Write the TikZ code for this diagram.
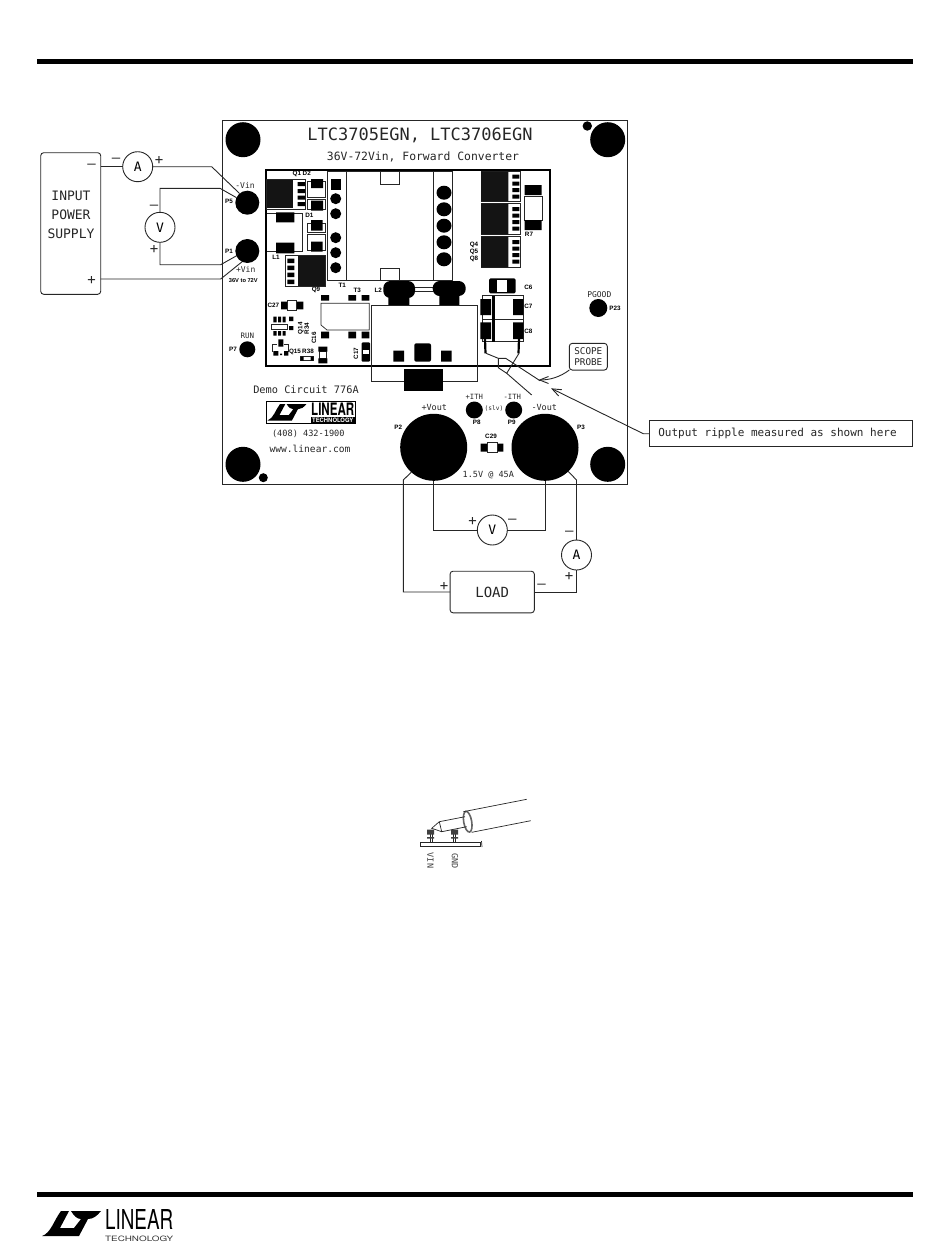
\documentclass[tikz,border=0pt]{standalone}
\usepackage{fontspec}
\usepackage{graphicx}
\usetikzlibrary{arrows.meta}
\newfontfamily\plotfont{DejaVu Sans Mono}
\newfontfamily\silkfont{Liberation Sans}
\newfontfamily\logofont{TeX Gyre Heros}
\definecolor{wire}{gray}{0.15}
\tikzset{
	wireline/.style={draw=wire, line width=.9pt},
	outline/.style={draw=wire, line width=.7pt},
	meter/.style={circle, draw=wire, fill=white, line width=.9pt, minimum size=30pt, inner sep=0pt, outer sep=0pt, font=\plotfont\fontsize{13}{13}\selectfont},
	hole/.style={circle, fill=black, inner sep=0pt, outer sep=0pt, minimum size=35pt},
	terminal/.style={circle, fill=black, inner sep=0pt, outer sep=0pt, minimum size=24pt},
	smalldot/.style={circle, fill=black, inner sep=0pt, outer sep=0pt, minimum size=17pt},
	bigpost/.style={circle, fill=black, inner sep=0pt, outer sep=0pt, minimum size=67pt},
	stroketext/.style={inner sep=0pt, text=black!85, font=\plotfont\fontsize{#1}{#1}\selectfont},
	stroketext/.default=10,
	silk/.style={inner sep=0pt, font=\silkfont\bfseries\fontsize{6.3}{6.5}\selectfont},
	sign/.style={inner sep=0pt, text=wire, font=\plotfont\fontsize{14}{14}\selectfont},
	barb/.style={-{Straight Barb[length=9pt,width=7pt]}, wireline},
	ltlogo/.pic={
		\fill[black] (19,0) -- (27,0) -- (18,17) -- (32,17) -- (39,8) .. controls (35,8) and (32,5) .. (29,0) -- (59,0) .. controls (55,5) and (51,8) .. (46,8) -- (37,25) -- (0,25) .. controls (9,22) and (12,9) .. (19,0) -- cycle;
	},
}
\begin{document}
\begin{tikzpicture}[x=1pt,y=-1pt]
	\useasboundingbox (0,0) rectangle (950,1248);
	% Page rules
	\fill[black] (37,59) rectangle (913,64);
	\fill[black] (37,1192) rectangle (913,1197);
	% Footer logo
	\pic at (42,1211) {ltlogo};
	\node[inner sep=0pt, anchor=north west, align=left, font=\fontsize{10}{10}\selectfont] (footword) at (105,1209.5) {\resizebox{68pt}{20pt}{\logofont LINEAR}\\[2pt]\textcolor{black!80}{\resizebox{68pt}{5.5pt}{\logofont TECHNOLOGY}}};
	% Board
	\draw[outline] (222.7,120) rectangle (627.3,484.3);
	\node[hole] (holeTL) at (243,139.7) {};
	\node[hole] (holeTR) at (607.7,139.7) {};
	\node[hole] (holeBL) at (243,464.3) {};
	\node[hole] (holeBR) at (607.7,464.3) {};
	\fill[black] (587.3,126) circle (4.7pt) (263.3,477.7) circle (4.5pt);
	\node[stroketext=17] (title) at (420,135) {LTC3705EGN, LTC3706EGN};
	\node[stroketext=11.4] (subtitle) at (423,157) {36V-72Vin, Forward Converter};
	\draw[draw=black, line width=1.4pt] (266,170) rectangle (550,366);
	% Q1, D2, D1, L1, Q9
	\draw[outline] (266.7,179) rectangle (305.7,209);
	\fill[black!92] (267.3,180) rectangle (293.3,208);
	\fill[black] (297.7,182) rectangle (305,186) (297.7,189) rectangle (305,193) (297.7,195.5) rectangle (305,199.5) (297.7,202) rectangle (305,206);
	\node[silk] (labelQ1) at (301.7,174) {Q1 D2};
	\draw[outline] (307.7,181) rectangle (325.7,197.3) (307.7,199) rectangle (325.7,209);
	\fill[black] (311,179) rectangle (323,188) (311,200.7) rectangle (323,210.7);
	\node[silk] (labelD1) at (309.3,215.7) {D1};
	\draw[outline] (307.7,223) rectangle (325.7,232) (307.7,234) rectangle (325.7,250);
	\fill[black] (311,220) rectangle (322.7,230.7) (311,241.7) rectangle (322.7,251.7);
	\draw[outline] (266.7,213.3) -- (302.7,213.3) -- (302.7,251) -- (266.7,251);
	\fill[black] (276,212.3) rectangle (294.3,222.3) (276,242.7) rectangle (294.3,253.3);
	\node[silk] (labelL1) at (276,257.3) {L1};
	\draw[outline] (285.7,255.7) rectangle (325,286.7);
	\fill[black!92] (298.3,255.7) rectangle (325,286);
	\fill[black] (287.3,258.5) rectangle (294.3,263) (287.3,265.5) rectangle (294.3,270) (287.3,272.5) rectangle (294.3,277) (287.3,279.5) rectangle (294.3,284);
	\node[silk] (labelQ9) at (316,290.3) {Q9};
	% T1 transformer
	\draw[outline] (327.3,171.7) rectangle (452.3,280.7) (346,171.7) -- (346,280.7) (433.3,171.7) -- (433.3,280.7);
	\draw[outline] (380.7,171.7) rectangle (399.3,184) (380.7,268.3) rectangle (399.3,280.7);
	\fill[black] (330.5,179) rectangle (341,189.5);
	\fill[black] (335.7,198.7) circle (5.5pt) (335.7,213.7) circle (5.5pt) (335.7,237.7) circle (5.5pt) (335.7,252.7) circle (5.5pt) (335.7,267.7) circle (5.5pt);
	\fill[black] (444,192.7) ellipse [x radius=7.5pt, y radius=7pt] (444,209.3) ellipse [x radius=7.5pt, y radius=7pt] (444,225.7) ellipse [x radius=7.5pt, y radius=7pt] (444,242.3) ellipse [x radius=7.5pt, y radius=7pt] (444,259.3) ellipse [x radius=7.5pt, y radius=7pt];
	\node[silk] (labelT1) at (342.3,285) {T1};
	\node[silk] (labelT3) at (357.3,290) {T3};
	% Q4, Q5, Q8, R7
	\draw[outline] (481,171.7) rectangle (520.7,201.3) (481,203.7) rectangle (520.7,234.3) (481,236.7) rectangle (520.7,267.3);
	\fill[black!92] (481,171.7) rectangle (508.3,201.3) (481,203.7) rectangle (508.3,234.3) (481,236.7) rectangle (508.3,267.3);
	\fill[black] (512.3,174.5) rectangle (519.3,178.5) (512.3,181.5) rectangle (519.3,185.5) (512.3,188) rectangle (519.3,192) (512.3,194.5) rectangle (519.3,198.5);
	\fill[black] (512.3,207) rectangle (519.3,211) (512.3,213.5) rectangle (519.3,217.5) (512.3,220) rectangle (519.3,224) (512.3,226.5) rectangle (519.3,230.5);
	\fill[black] (512.3,240) rectangle (519.3,244) (512.3,246.5) rectangle (519.3,250.5) (512.3,253) rectangle (519.3,257) (512.3,259.5) rectangle (519.3,263.5);
	\node[silk] (labelQ4) at (474,245) {Q4};
	\node[silk] (labelQ5) at (474,252) {Q5};
	\node[silk] (labelQ8) at (474,259) {Q8};
	\draw[outline] (524,196) rectangle (542.7,220);
	\fill[black] (524.7,185) rectangle (541.7,195) (524.7,220) rectangle (541.7,230);
	\node[silk] (labelR7) at (529,234) {R7};
	% L2 and the big output inductor
	\draw[outline] (371.7,305) rectangle (477.3,381.7);
	\draw[outline] (415,287) -- (433,287) (415,291) -- (433,291);
	\fill[black, rounded corners=7pt] (383.3,281) rectangle (415,298) (432.7,281) rectangle (465.7,296);
	\fill[black] (388.3,290) rectangle (409.3,305) (439.3,290) rectangle (459.3,305);
	\node[silk] (labelL2) at (378.3,290) {L2};
	\fill[black] (393.3,350.7) rectangle (404,361.7) (441,350.7) rectangle (451.7,361.7);
	\fill[black, rounded corners=2pt] (414.3,343.3) rectangle (431,361.7);
	\fill[black] (404.3,369) rectangle (443.3,390.7);
	% T3
	\draw[outline] (321,303.3) -- (369.3,303.3) -- (369.3,330) -- (327,330) -- (321,325) -- cycle;
	\fill[black] (321,295) rectangle (329,300.7) (348.3,295) rectangle (356,300.7) (361.7,295) rectangle (369.3,300.7);
	\fill[black] (321,331.7) rectangle (329,338.3) (348.3,331.7) rectangle (356,338.3) (361.7,331.7) rectangle (369.3,338.3);
	% C6, C7, C8
	\fill[black, rounded corners=1.5pt] (489,278.3) rectangle (515.7,293.3);
	\fill[white] (497,280) rectangle (507,292);
	\node[silk] (labelC6) at (528.3,287.7) {C6};
	\draw[outline] (482.3,295.7) rectangle (523.3,341.7) (482.3,319) -- (523.3,319);
	\fill[black] (492.3,295.7) rectangle (494.5,342);
	\fill[black] (480.3,299) rectangle (491,315) (513,299) rectangle (523.3,315) (480.3,322.3) rectangle (491,339) (513,322.3) rectangle (523.3,339);
	\node[silk] (labelC7) at (528.3,306.7) {C7};
	\node[silk] (labelC8) at (528.3,331) {C8};
	% Probe across the output
	\draw[black, line width=2.2pt] (485,339) -- (485.5,353.3) (519,339) -- (518.5,353.3);
	\draw[wireline] (486,353.3) -- (498.3,358.3) -- (505.7,358.3) -- (540,380.7);
	\draw[wireline] (519,353.3) -- (506.7,373.3) -- (498.3,367.7) -- (498.3,358.3);
	\draw[wireline] (506.7,373.3) -- (531.7,395);
	% Small parts lower left
	\fill[black] (281,301.7) rectangle (287.3,309.3) (296.7,301.7) rectangle (303.3,309.3);
	\draw[outline] (287.3,300) rectangle (296.7,310.7);
	\node[silk] (labelC27) at (273.3,305.7) {C27};
	\fill[black] (273.3,316.7) rectangle (276.5,322.3) (278,316.7) rectangle (281,322.3) (282.5,316.7) rectangle (285.5,322.3) (273.3,331) rectangle (276.5,335.7) (278,331) rectangle (281,335.7) (282.5,331) rectangle (285.5,335.7);
	\draw[outline] (271,324) rectangle (287.3,329.3);
	\fill[black] (289,316.7) rectangle (293.3,321) (289,326) rectangle (293.3,330);
	\node[silk, rotate=90] (labelQ14) at (300.7,328.3) {Q14};
	\node[silk, rotate=90] (labelR34) at (306.7,328.3) {R34};
	\draw[outline] (272.7,352) -- (272.7,344.3) -- (277.3,344.3) (284,344.3) -- (288.3,344.3) -- (288.3,352);
	\fill[black] (278.3,339.3) rectangle (283.3,346.7) (273.3,351) rectangle (278.3,355.7) (284,351) rectangle (288.3,355.7) (280,353.5) rectangle (282,355);
	\node[silk] (labelQ15) at (295,351.7) {Q15};
	\node[silk] (labelR38) at (308,351.7) {R38};
	\draw[outline] (300.7,356.7) rectangle (313.3,360.7);
	\fill[black] (300.7,356.7) rectangle (303.5,360.7) (310.5,356.7) rectangle (313.3,360.7);
	\draw[outline] (319,351.7) rectangle (326.5,358.3);
	\fill[black] (318.3,346.7) rectangle (327.3,351.7) (318.3,358.3) rectangle (327.3,363.3);
	\node[silk, rotate=90] (labelC16) at (314,338) {C16};
	\fill[black, rounded corners=1pt] (361.7,342.3) rectangle (370,361.7);
	\fill[white] (362.5,350) rectangle (369.2,354.3);
	\node[silk, rotate=90] (labelC17) at (356,353.3) {C17};
	% Terminals and their labels
	\node[terminal] (pFive) at (247.3,202.7) {};
	\node[terminal] (pOne) at (247.3,251) {};
	\node[stroketext=8] (labelVinNeg) at (245,185) {-Vin};
	\node[silk] (labelP5) at (229,201.7) {P5};
	\node[silk] (labelP1) at (229,251) {P1};
	\node[stroketext=8] (labelVinPos) at (245.7,269.3) {+Vin};
	\node[silk, font=\silkfont\bfseries\fontsize{5.7}{6}\selectfont] (labelRange) at (243.3,280.7) {36V to 72V};
	\node[smalldot, minimum size=16pt] (pSeven) at (247.3,349.3) {};
	\node[stroketext=7.5] (labelRun) at (247.3,336) {RUN};
	\node[silk] (labelP7) at (233,349.3) {P7};
	\node[smalldot, minimum size=18pt] (pGood) at (598.3,308) {};
	\node[stroketext=8] (labelGood) at (599.3,294.3) {PGOOD};
	\node[silk] (labelP23) at (615,308) {P23};
	\node[smalldot] (pEight) at (474.3,410) {};
	\node[smalldot] (pNine) at (513.7,410) {};
	\node[stroketext=7.2] (labelIthPos) at (474.3,396.7) {+ITH};
	\node[stroketext=7.2] (labelIthNeg) at (512.3,396.7) {-ITH};
	\node[silk] (labelP8) at (476.7,422.7) {P8};
	\node[silk] (labelP9) at (511.7,422.7) {P9};
	\node[stroketext=6.2] (labelSlv) at (494,408.3) {(slv)};
	\node[bigpost] (pTwo) at (433.7,447.3) {};
	\node[bigpost] (pThree) at (545,447.3) {};
	\node[stroketext=8.5] (labelVoutPos) at (434.3,407.3) {+Vout};
	\node[stroketext=8.5] (labelVoutNeg) at (544.3,407.3) {-Vout};
	\node[silk] (labelP2) at (398.3,427.7) {P2};
	\node[silk] (labelP3) at (581,427.7) {P3};
	\node[silk] (labelC29) at (491,436.7) {C29};
	\fill[black] (480.7,443.5) rectangle (487,451.5) (497,443.5) rectangle (503.3,451.5);
	\draw[outline] (487,442.7) rectangle (497,452);
	\node[stroketext=8.5] (labelAmps) at (488.3,474.7) {1.5V @ 45A};
	% Board text and logo
	\node[stroketext=10.3] (demoText) at (306,389.7) {Demo Circuit 776A};
	\draw[line width=.8pt] (266.3,401) rectangle (355.3,423.3);
	\pic[scale=.66] at (267.5,404) {ltlogo};
	\node[inner sep=0pt, anchor=north west] (boardword) at (311,402.5) {\resizebox{43pt}{12.5pt}{\logofont\bfseries LINEAR}};
	\fill[black] (311,416.5) rectangle (354.5,423);
	\node[inner sep=0pt, text=white] (boardname) at (332.7,419.8) {\resizebox{41pt}{4.5pt}{\logofont\bfseries TECHNOLOGY}};
	\node[stroketext=8.6] (phoneText) at (308.3,433.3) {(408) 432-1900};
	\node[stroketext=9.6] (webText) at (310,449) {www.linear.com};
	% Input side
	\node[wireline, rounded corners=3pt, minimum width=60pt, minimum height=141.6pt, inner sep=0pt, outer sep=0pt] (supply) at (70.7,223.5) {};
	\node[stroketext=13, align=center] (supplyText) at (71,215) {INPUT\\[6pt]POWER\\[6pt]SUPPLY};
	\node[sign] (supplyNeg) at (91.7,166.7) {–};
	\node[sign] (supplyPos) at (91.7,280) {+};
	\node[meter] (ammIn) at (137.7,166.7) {A};
	\node[meter] (voltIn) at (160,227.3) {V};
	\node[sign] (ammNeg) at (116,160) {–};
	\node[sign] (ammPos) at (159,160.7) {+};
	\node[sign] (voltNeg) at (154,207) {–};
	\node[sign] (voltPos) at (154,249) {+};
	\coordinate (supplyTop) at (100.7,166.7);
	\coordinate (supplyBot) at (100.7,279);
	\draw[wireline] (supplyTop) -- (ammIn.west);
	\draw[wireline] (ammIn.east) -- (211.7,166.7) -- (pFive.130);
	\draw[wireline] (voltIn.north) -- (160,188.3) -- (220,188.3) -- (pFive.155);
	\draw[wireline] (voltIn.south) -- (160,264.7) -- (220.7,264.7) -- (pOne.204);
	\draw[wireline] (supplyBot) -- (220.7,279) -- (pOne.244);
	% Output side
	\node[wireline, rounded corners=3pt, minimum width=84.3pt, minimum height=41.6pt, inner sep=0pt, outer sep=0pt, stroketext=14] (load) at (492.2,592) {LOAD};
	\node[meter] (voltOut) at (492.3,530) {V};
	\node[meter] (ammOut) at (576.5,555) {A};
	\node[sign] (voltOutPos) at (472.7,521.7) {+};
	\node[sign] (voltOutNeg) at (512.3,521.7) {–};
	\node[sign] (loadPos) at (444,586.7) {+};
	\node[sign] (loadNeg) at (541.7,586.7) {–};
	\node[sign] (ammOutNeg) at (569.3,533) {–};
	\node[sign] (ammOutPos) at (569,576.7) {+};
	\draw[wireline] (pTwo.south) -- (433.7,530) -- (voltOut.west);
	\draw[wireline] (voltOut.east) -- (545,530) -- (pThree.south);
	\draw[wireline] (pTwo.228) -- (403.3,480) -- (403.3,592) -- (load.west);
	\draw[wireline] (load.east) -- (576.5,592) -- (ammOut.south);
	\draw[wireline] (ammOut.north) -- (576.5,480) -- (pThree.-46);
	% Callouts
	\node[wireline, fill=white, minimum width=38pt, minimum height=26.7pt, inner sep=0pt, outer sep=0pt, rounded corners=3pt, align=center, stroketext=9.3] (scopeBox) at (588.3,356.7) {SCOPE\\[1.5pt]PROBE};
	\coordinate (scopeTip) at (538.3,380);
	\draw[barb] (scopeBox.south west) .. controls (560,377) and (550,380) .. (scopeTip);
	\node[wireline, fill=white, minimum width=263.4pt, minimum height=26pt, inner sep=0pt, outer sep=0pt, stroketext=11] (rippleBox) at (781,433.7) {Output ripple measured as shown here\hspace*{7pt}};
	\coordinate (rippleTip) at (551,388.3);
	\draw[barb] (rippleBox.west) -- (643.3,433.7) -- (rippleTip);
	% Probe sketch
	\draw[draw=black!60, line width=1.6pt, fill=white] (467.7,821.7) ellipse [x radius=4pt, y radius=10.5pt, rotate=10];
	\draw[outline] (463.3,811.7) -- (526.7,799.3) (471.7,832.3) -- (530.7,820.7);
	\draw[outline] (465,816.7) -- (439.3,821.7) -- (431.7,828.3) -- (441.7,831.7) -- (466.7,826.7) (439.3,821.7) -- (441.7,831.7);
	\draw[outline] (420.7,842) rectangle (480,846);
	\draw[outline] (430,832) -- (430,842) (432,832) -- (432,842) (453.5,832) -- (453.5,842) (455.5,832) -- (455.5,842);
	\fill[black!75] (427,829.5) rectangle (434,834.5) (451,829.5) rectangle (458,834.5) (427,837) rectangle (434,838.5) (451,837) rectangle (458,838.5);
	\draw[outline] (481.5,841) .. controls (483,843) and (480.5,845) .. (482,847);
	\node[stroketext=8.5, rotate=-90, text=black!75] (labelVin) at (430.5,860.5) {VIN};
	\node[stroketext=8.5, rotate=-90, text=black!75] (labelGnd) at (455,861) {GND};
\end{tikzpicture}
\end{document}
